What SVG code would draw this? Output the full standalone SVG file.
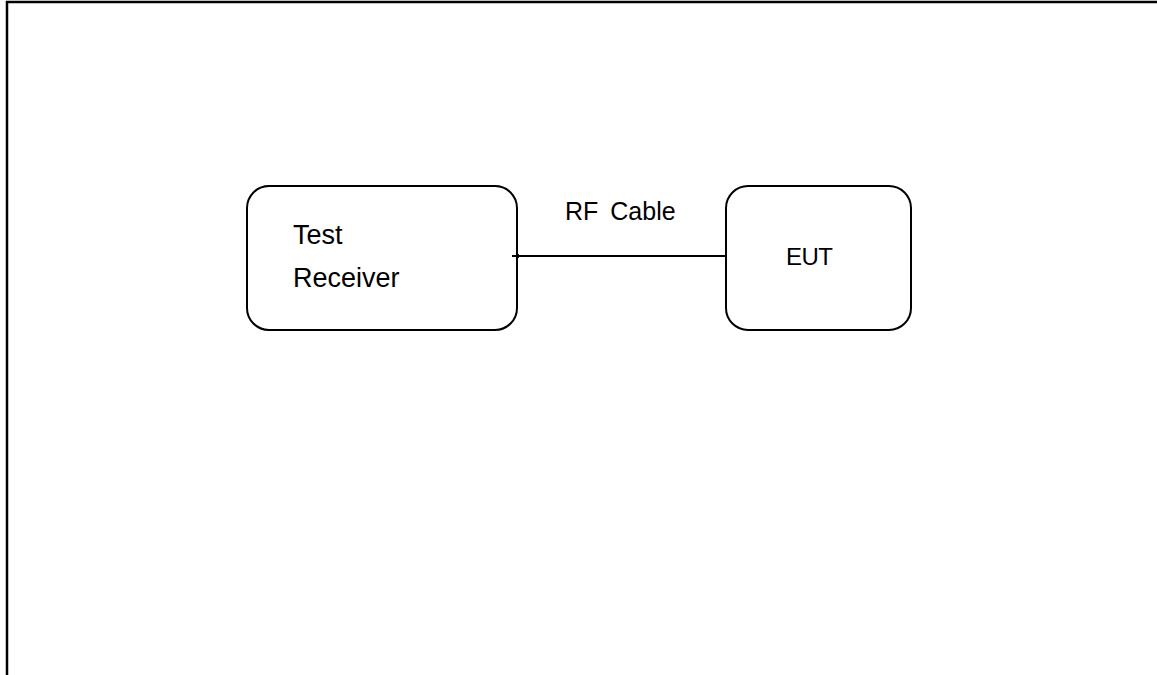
<svg xmlns="http://www.w3.org/2000/svg" width="1157" height="675" viewBox="0 0 1157 675">
<defs>
<style>
.box{fill:#fff;stroke:#000;stroke-width:2}
.t{font-family:"Liberation Sans",Arial,sans-serif;fill:#000}
</style>
<marker id="ah" markerWidth="8" markerHeight="6" refX="7" refY="3" orient="auto" markerUnits="userSpaceOnUse">
<path d="M0,1 L7,3 L0,5 Z" fill="#000"/>
</marker>
</defs>
<rect width="1157" height="675" fill="#fff"/>
<path d="M7,675 V2 H1157" fill="none" stroke="#000" stroke-width="2.5"/>
<g id="test-receiver">
<rect class="box" x="247" y="186" width="270" height="144" rx="22"/>
<text class="t" x="293" y="244" font-size="27">Test</text>
<text class="t" x="293" y="287" font-size="27">Receiver</text>
</g>
<g id="eut">
<rect class="box" x="726" y="186" width="185" height="144" rx="22"/>
<text class="t" x="786" y="265" font-size="24" letter-spacing="-0.5">EUT</text>
</g>
<g id="connectors">
<line x1="726" y1="256" x2="512" y2="256" stroke="#000" stroke-width="2" marker-end="url(#ah)"/>
<text class="t" x="565" y="220" font-size="25" word-spacing="5">RF Cable</text>
</g>
</svg>
